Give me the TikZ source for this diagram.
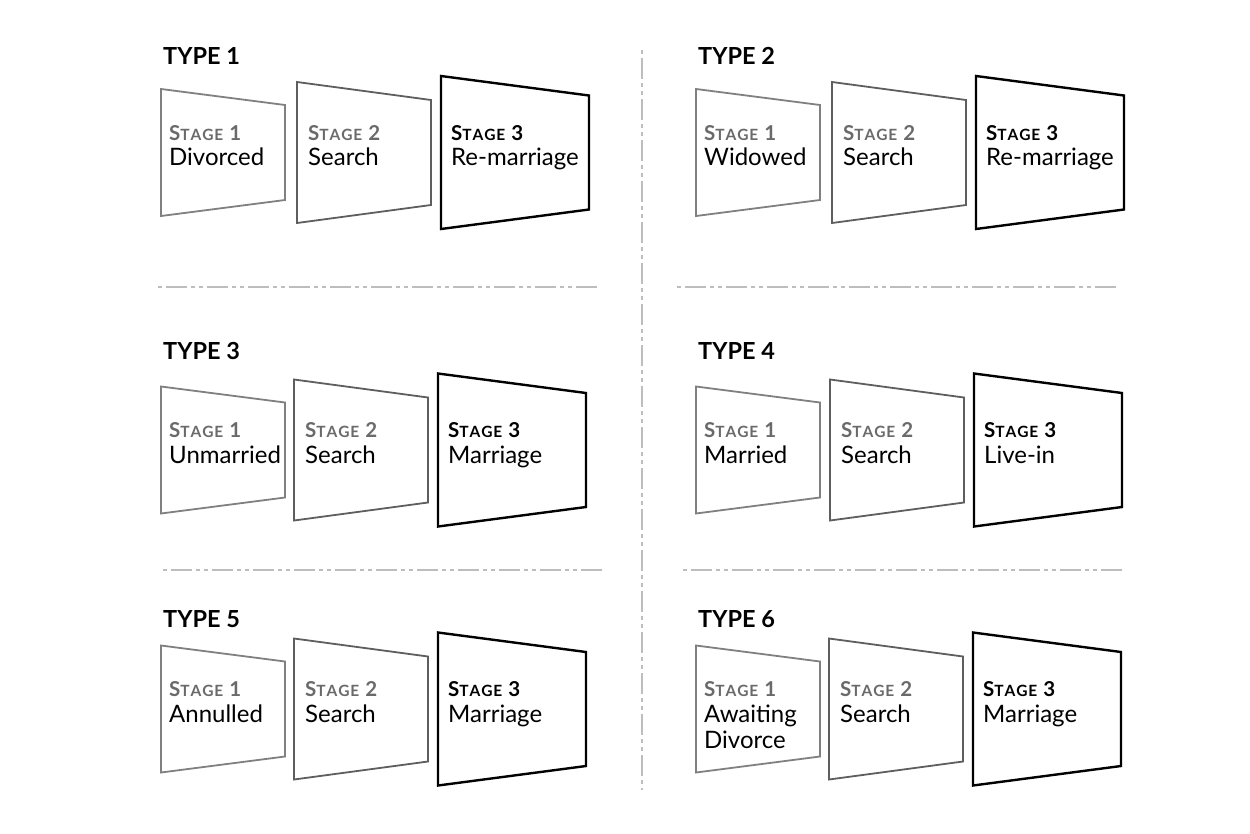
\documentclass[tikz,border=0pt]{standalone}
\usepackage{fontspec}
\setmainfont{Lato}
\usepackage{xcolor}
\usepackage{tikz}

\definecolor{boxgray}{HTML}{808080}
\definecolor{boxdark}{HTML}{5E5E5E}
\definecolor{labelgray}{HTML}{6A6A6A}
\definecolor{rulegray}{HTML}{BDBDBD}

\newcommand{\stagelabel}[1]{\textbf{S{\fontsize{15.5}{16}\selectfont T\kern0.9pt A\kern0.9pt G\kern0.9pt E}\hspace{6pt}#1}}

\tikzset{
  stageone/.style={draw=boxgray, line width=1.8pt, line join=miter},
  stagetwo/.style={draw=boxdark, line width=1.8pt, line join=miter},
  stagethree/.style={draw=black, line width=2.4pt, line join=miter},
  typelabel/.style={anchor=base west, inner sep=0pt, font=\fontsize{23.5}{26}\selectfont\bfseries},
  stagetext/.style={anchor=base west, inner sep=0pt, font=\fontsize{20.5}{21}\selectfont},
  nametext/.style={anchor=base west, inner sep=0pt, font=\fontsize{24}{26}\selectfont},
  divider/.style={draw=rulegray, line width=2.7pt,
    dash pattern=on 3.5pt off 4.5pt on 20.5pt off 4.5pt on 3.5pt off 4.5pt}
}

\begin{document}
\begin{tikzpicture}[x=1pt, y=-1pt]
    \useasboundingbox (0,0) rectangle (1250,833);

    \foreach \n/\a/\b/\c/\yc/\ty/\first/\last in {
        1/161/297/441/152.5/64/Divorced/Re-marriage,
        2/696/832/976/152.5/64/Widowed/Re-marriage,
        3/161/294/438/450/359/Unmarried/Marriage,
        4/696/830/974/450/359/Married/Live-in,
        5/161/294/438/709/627/Annulled/Marriage,
        6/696/829/973/709/627/{\vtop{\hbox{Awaiting}\hbox{Divorce}}}/Marriage} {
        % Type heading above the three stages
        \node[typelabel] (type\n) at (\a+2,\ty) {TYPE \n};
        % Draw the three widening boxes
        \draw[stageone] (\a,\yc-63.5) -- (\a+124,\yc-47.5) -- (\a+124,\yc+47.5) -- (\a,\yc+63.5) -- cycle;
        \draw[stagetwo] (\b,\yc-70.5) -- (\b+134,\yc-52.5) -- (\b+134,\yc+52.5) -- (\b,\yc+70.5) -- cycle;
        \draw[stagethree] (\c,\yc-76.5) -- (\c+148,\yc-57) -- (\c+148,\yc+57) -- (\c,\yc+76.5) -- cycle;
        % Stage numbers and names inside the boxes
        \node[stagetext, text=labelgray] (st\n-1) at (\a+8,\yc-12.5) {\stagelabel{1}};
        \node[nametext] (nm\n-1) at (\a+8,\yc+13) {\first};
        \node[stagetext, text=labelgray] (st\n-2) at (\b+11,\yc-12.5) {\stagelabel{2}};
        \node[nametext] (nm\n-2) at (\b+11,\yc+13) {Search};
        \node[stagetext] (st\n-3) at (\c+10,\yc-12.5) {\stagelabel{3}};
        \node[nametext] (nm\n-3) at (\c+10,\yc+13) {\last};
    }

    % Dash-dot dividers between the rows and columns
    \draw[divider] (642,50) -- (642,790);
    \draw[divider] (158,287) -- (599,287);
    \draw[divider] (677,287) -- (1118,287);
    \draw[divider] (163,570) -- (604,570);
    \draw[divider] (683,570) -- (1124,570);

\end{tikzpicture}
\end{document}
